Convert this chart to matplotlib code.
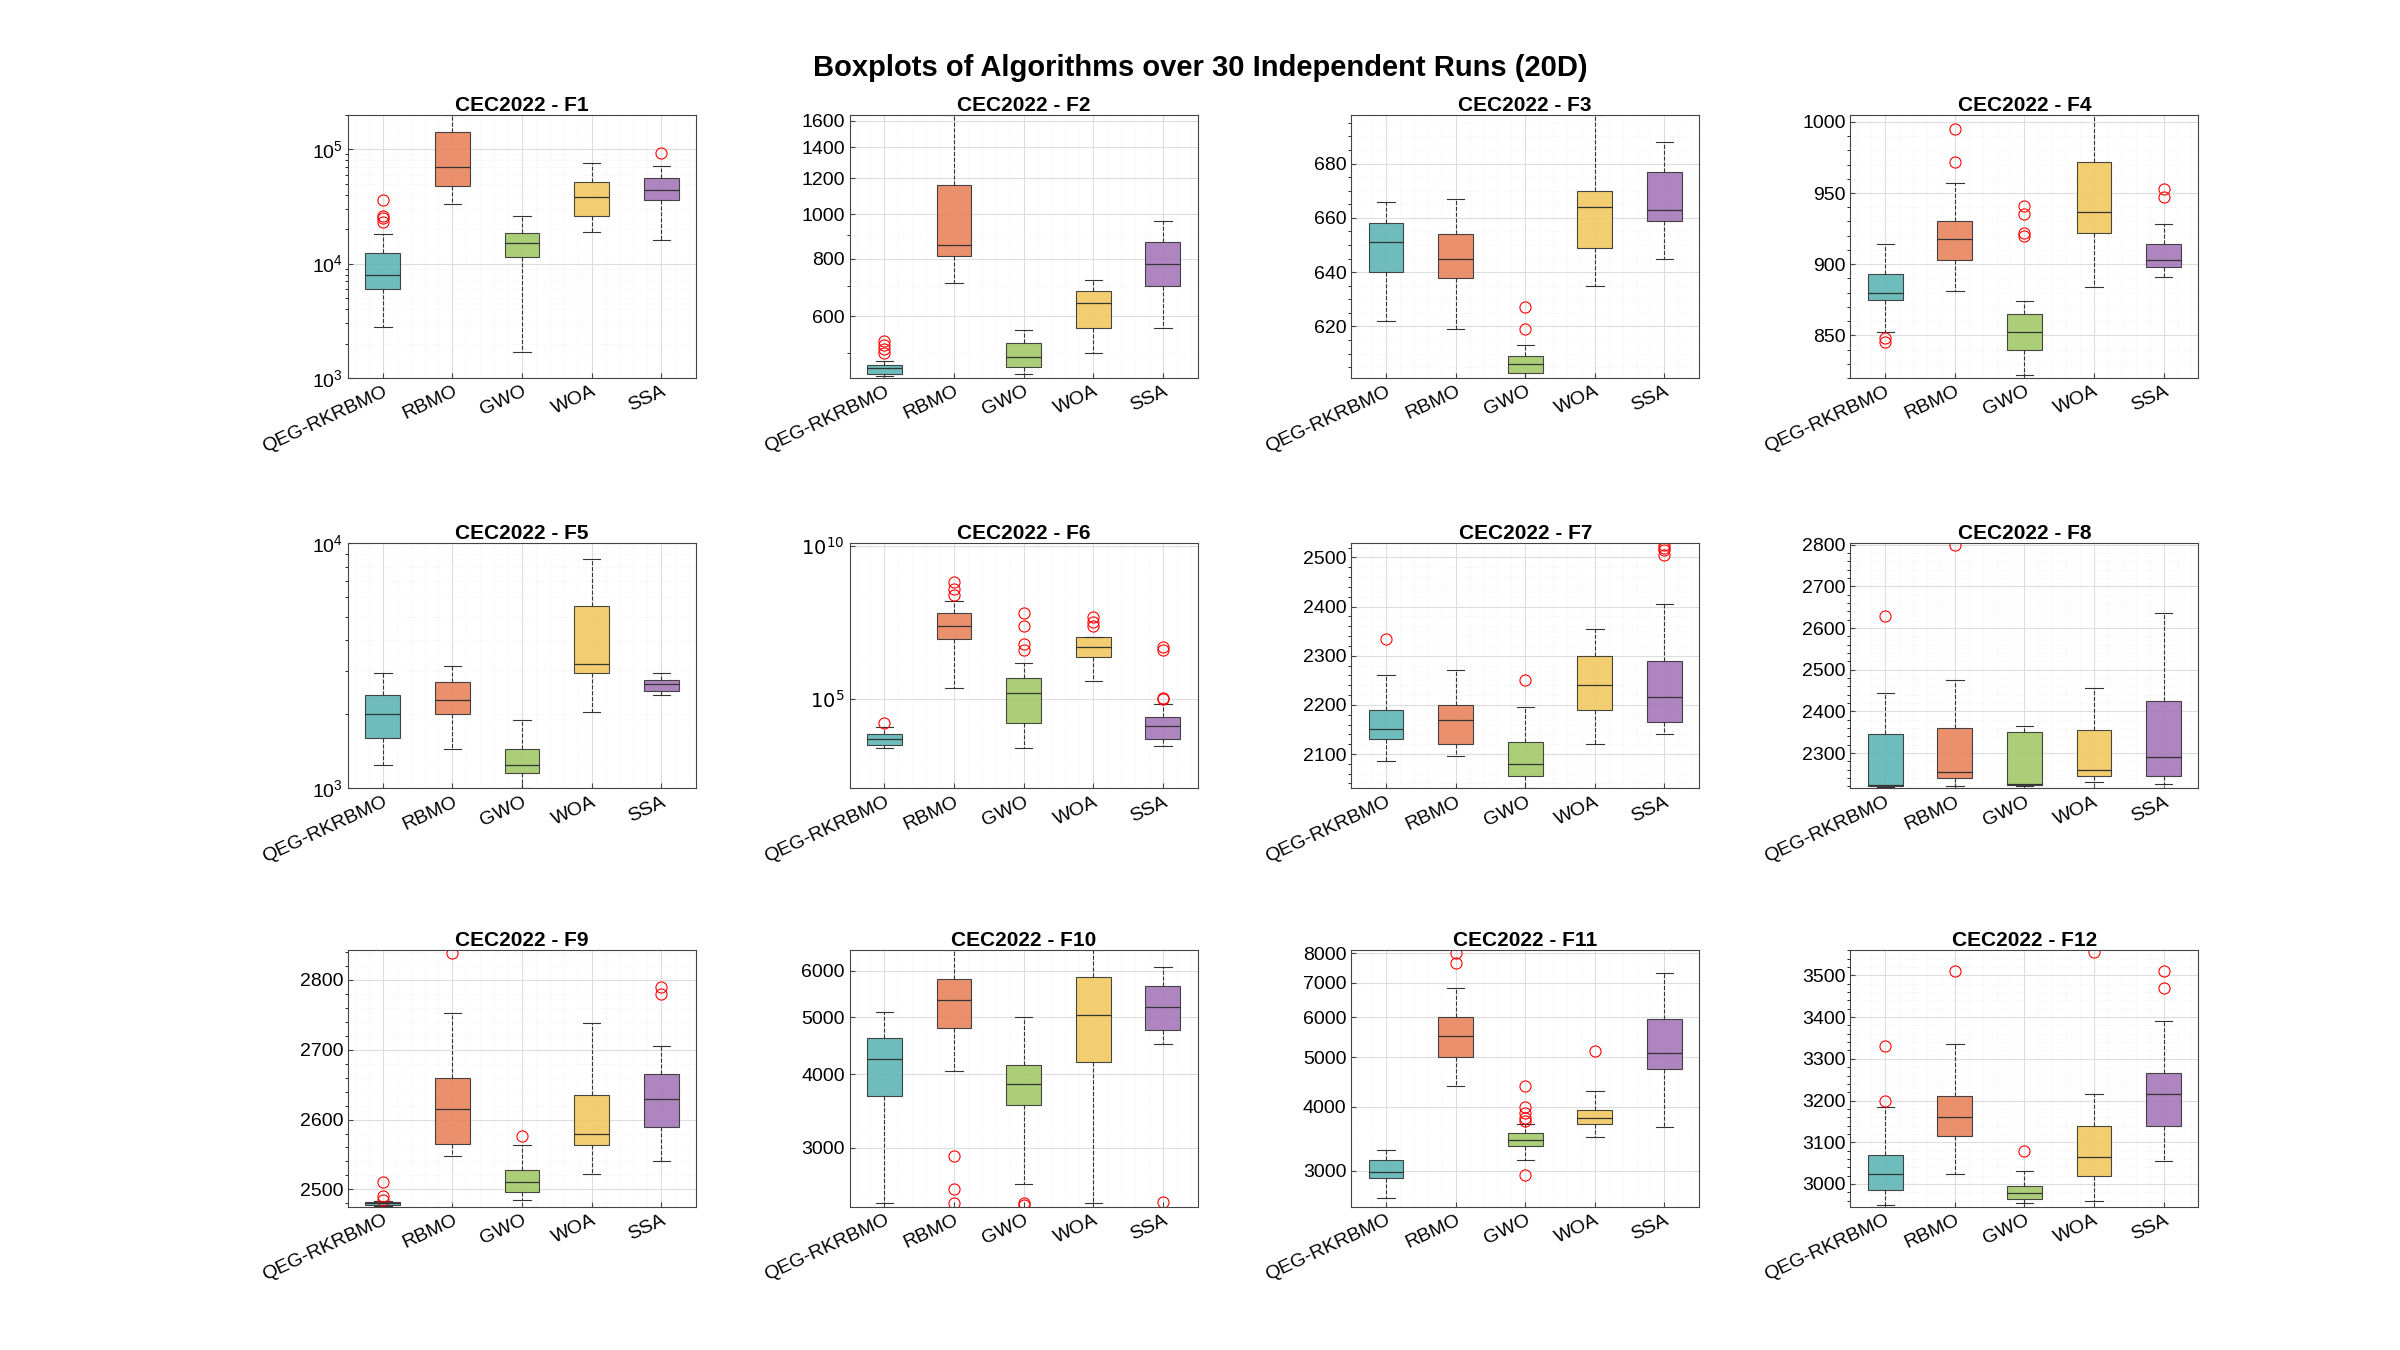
# -*- coding: utf-8 -*-
"""
Boxplots of the five algorithms on the CEC2022 suite (20D), 30 runs each.
"""

import math
import matplotlib.pyplot as plt
from matplotlib.ticker import FixedLocator, FixedFormatter, NullFormatter

plt.rcParams['font.family'] = ['Liberation Sans', 'DejaVu Sans']

# --- Step 1: Box statistics read per function (q1, median, q3, whisker low, whisker high, outliers) ---
print("--- Loading box statistics ---")
algorithms = ['QEG-RKRBMO', 'RBMO', 'GWO', 'WOA', 'SSA']
colors = ['#5fb5b5', '#e8845c', '#a3c96a', '#f2c961', '#a678ba']

stats = {
    'F1': [(6000, 8000, 12500, 2800, 18000, [23000, 25000, 26000, 36000]),
           (48000, 70000, 140000, 33000, 200000, []),
           (11500, 15000, 18500, 1700, 26000, []),
           (26000, 38000, 52000, 19000, 75000, []),
           (36000, 44000, 56000, 16000, 72000, [92000])],
    'F2': [(450, 462, 470, 445, 480, [500, 510, 520, 530]),
           (810, 860, 1160, 710, 1650, []),
           (465, 490, 525, 450, 560, []),
           (565, 640, 680, 500, 720, []),
           (700, 780, 870, 565, 970, [])],
    'F3': [(640, 651, 658, 622, 666, []),
           (638, 645, 654, 619, 667, []),
           (603, 606, 609, 601, 613, [619, 627]),
           (649, 664, 670, 635, 698, []),
           (659, 663, 677, 645, 688, [])],
    'F4': [(875, 880, 893, 852, 914, [845, 848]),
           (903, 918, 930, 881, 957, [972, 995]),
           (840, 852, 865, 822, 874, [920, 922, 935, 941]),
           (922, 937, 972, 884, 1005, []),
           (898, 903, 914, 891, 928, [947, 953])],
    'F5': [(1600, 2000, 2400, 1250, 2950, []),
           (2000, 2300, 2700, 1450, 3150, []),
           (1150, 1250, 1450, 1000, 1900, []),
           (2950, 3200, 5500, 2050, 8600, []),
           (2500, 2650, 2750, 2400, 2950, [])],
    'F6': [(3.2e3, 5e3, 7e3, 2.5e3, 1.2e4, [1.6e4]),
           (9e6, 2.5e7, 6.3e7, 2.3e5, 1.6e8, [2.5e8, 4e8, 7e8]),
           (1.6e4, 1.6e5, 5e5, 2.5e3, 1.5e6, [4e6, 6.3e6, 2.5e7, 6.3e7]),
           (2.3e6, 5e6, 1.1e7, 4e5, 1.1e7, [2.5e7, 3.2e7, 5e7]),
           (5e3, 1.3e4, 2.5e4, 3e3, 7e4, [1e5, 1.1e5, 4e6, 5e6])],
    'F7': [(2130, 2150, 2190, 2085, 2260, [2335]),
           (2120, 2170, 2200, 2095, 2270, []),
           (2055, 2080, 2125, 2030, 2195, [2250]),
           (2190, 2240, 2300, 2120, 2355, []),
           (2165, 2215, 2290, 2140, 2405, [2505, 2515, 2520, 2525])],
    'F8': [(2220, 2222, 2345, 2218, 2445, [2630]),
           (2240, 2255, 2360, 2220, 2475, [2800]),
           (2222, 2225, 2350, 2220, 2365, []),
           (2245, 2260, 2355, 2230, 2455, []),
           (2245, 2290, 2425, 2225, 2635, [])],
    'F9': [(2478, 2480, 2482, 2477, 2484, [2485, 2490, 2510]),
           (2565, 2615, 2660, 2548, 2752, [2838]),
           (2497, 2510, 2528, 2485, 2563, [2577]),
           (2563, 2580, 2635, 2522, 2738, []),
           (2590, 2630, 2665, 2540, 2705, [2780, 2790])],
    'F10': [(3680, 4250, 4620, 2420, 5100, []),
            (4800, 5350, 5800, 4050, 6500, [2900, 2550, 2420]),
            (3550, 3850, 4150, 2600, 5000, [2420, 2400]),
            (4200, 5050, 5850, 2420, 6500, []),
            (4750, 5200, 5650, 4500, 6100, [2430])],
    'F11': [(2900, 2980, 3150, 2650, 3300, []),
            (5000, 5500, 6000, 4400, 6850, [7650, 8000]),
            (3350, 3450, 3550, 3150, 3700, [2950, 3750, 3800, 3900, 4000, 4400]),
            (3700, 3800, 3950, 3500, 4300, [5150]),
            (4750, 5100, 5950, 3650, 7300, [])],
    'F12': [(2985, 3025, 3070, 2950, 3185, [3200, 3330]),
            (3115, 3160, 3210, 3025, 3335, [3510]),
            (2965, 2978, 2995, 2955, 3030, [3080]),
            (3020, 3065, 3140, 2960, 3215, [3555]),
            (3140, 3215, 3265, 3055, 3390, [3470, 3510])],
}

# scale, y-limits and (optional) tick values
axis_setup = {
    'F1': ('log', (1e3, 2e5), None),
    'F2': ('log', (440, 1650), [600, 800, 1000, 1200, 1400, 1600]),
    'F3': ('linear', (601, 698), None),
    'F4': ('linear', (820, 1005), None),
    'F5': ('log', (1e3, 1e4), None),
    'F6': ('log', (1.2e2, 1.3e10), [1e5, 1e10]),
    'F7': ('linear', (2030, 2530), None),
    'F8': ('linear', (2215, 2805), None),
    'F9': ('linear', (2475, 2842), None),
    'F10': ('log', (2380, 6500), [3000, 4000, 5000, 6000]),
    'F11': ('log', (2550, 8100), [3000, 4000, 5000, 6000, 7000, 8000]),
    'F12': ('linear', (2945, 3560), [3000, 3100, 3200, 3300, 3400, 3500]),
}

# --- Step 2: Draw the 3x4 grid of boxplots ---
print("--- Drawing boxplots ---")
fig = plt.figure(figsize=(24, 13.5), dpi=100)
lefts = [0.145, 0.354, 0.563, 0.771]
rows = [(0.72, 0.195), (0.416, 0.182), (0.106, 0.19)]

for k, fname in enumerate(stats):
    r, c = divmod(k, 4)
    ax = fig.add_axes([lefts[c], rows[r][0], 0.145, rows[r][1]])
    bxp_stats = [dict(q1=q1, med=med, q3=q3, whislo=lo, whishi=hi, fliers=fl, label=a)
                 for (q1, med, q3, lo, hi, fl), a in zip(stats[fname], algorithms)]
    bp = ax.bxp(bxp_stats, patch_artist=True, widths=0.5,
                boxprops=dict(edgecolor='#333333', linewidth=0.8),
                medianprops=dict(color='#333333', linewidth=0.9),
                whiskerprops=dict(color='#333333', linestyle='--', linewidth=0.8),
                capprops=dict(color='#333333', linewidth=0.8),
                flierprops=dict(marker='o', markerfacecolor='none', markeredgecolor='red',
                                markersize=8, markeredgewidth=0.8))
    for patch, col in zip(bp['boxes'], colors):
        patch.set_facecolor(col)
        patch.set_alpha(0.9)
    scale, ylim, ticks = axis_setup[fname]
    ax.set_yscale(scale)
    ax.set_ylim(*ylim)
    ax.minorticks_on()
    if ticks is not None:
        ax.yaxis.set_major_locator(FixedLocator(ticks))
        ax.yaxis.set_major_formatter(FixedFormatter(
            [f'$10^{{{int(round(math.log10(t)))}}}$' if t >= 1e5 else str(t) for t in ticks]))
        ax.yaxis.set_minor_formatter(NullFormatter())
    ax.grid(True, which='major', color='#dddddd', linewidth=0.8)
    ax.grid(True, which='minor', color='#eeeeee', linewidth=0.6, linestyle=':')
    ax.tick_params(axis='x', which='minor', bottom=False)
    ax.tick_params(labelsize=14, direction='in', color='#444444')
    ax.set_xticklabels(algorithms, rotation=25, ha='right', rotation_mode='anchor')
    for s in ax.spines.values():
        s.set_color('#444444')
    ax.set_title(f'CEC2022 - {fname}', fontsize=15, fontweight='bold', pad=3)

fig.suptitle('Boxplots of Algorithms over 30 Independent Runs (20D)', fontsize=21,
             fontweight='bold', y=0.96)

plt.savefig('out.png', dpi=100, facecolor='white')
print("\n--- All tasks complete. ---")
